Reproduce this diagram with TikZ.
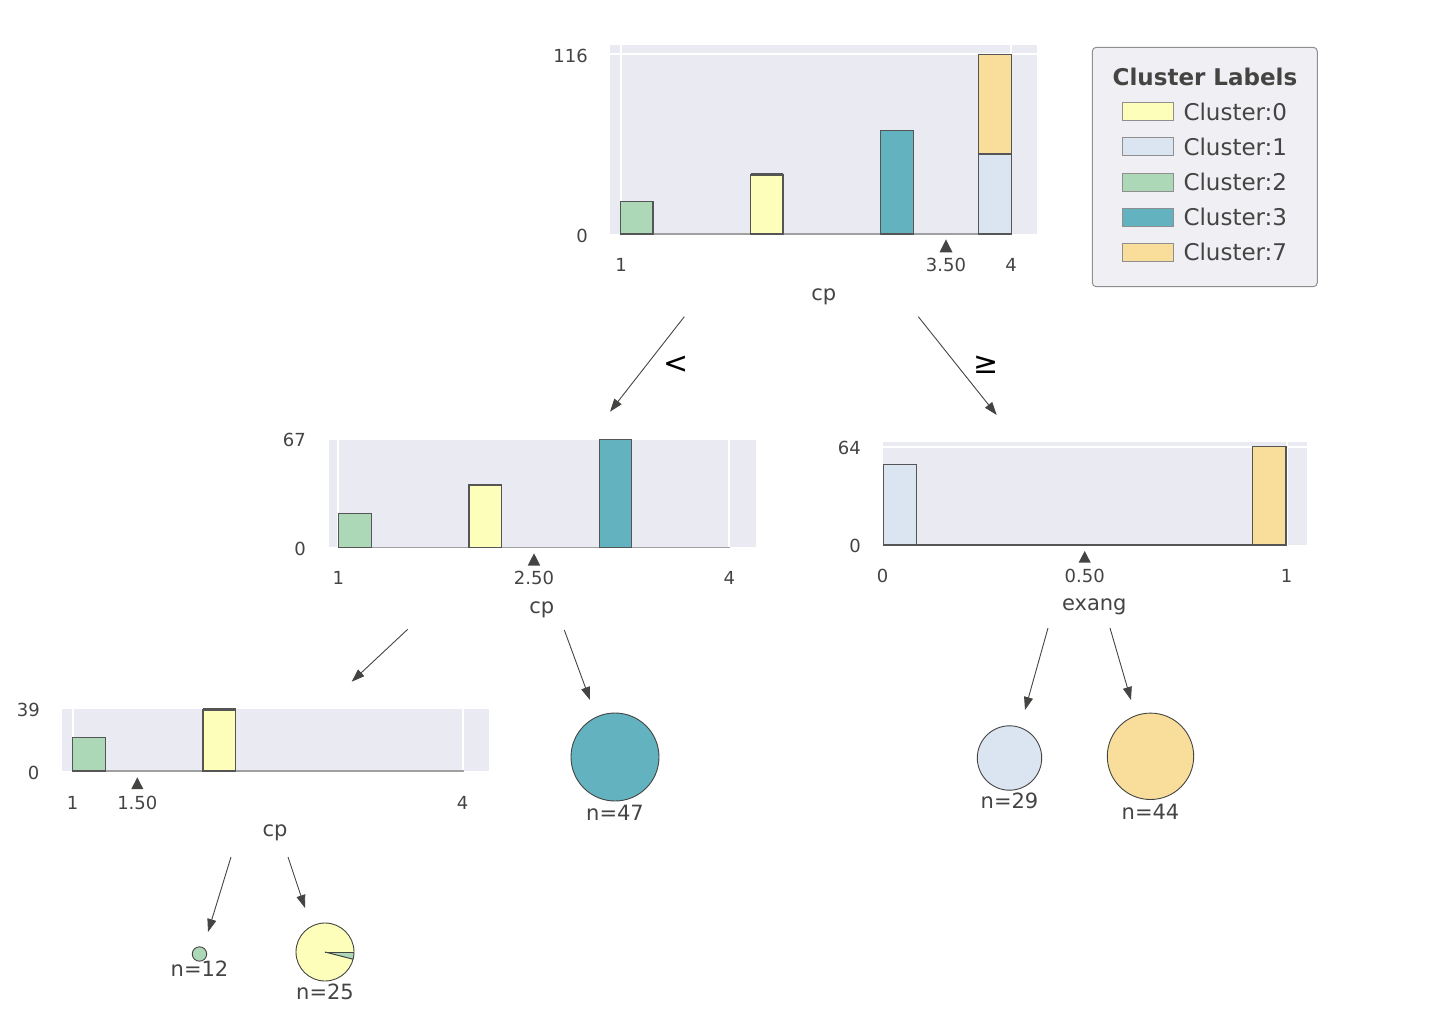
\documentclass[tikz,border=0pt]{standalone}
\usepackage{fontspec}
\setmainfont{DejaVu Sans}
\usetikzlibrary{arrows.meta}
\definecolor{txt}{HTML}{444443}
\definecolor{panel}{HTML}{EAEAF2}
\definecolor{baredge}{HTML}{555555}
\definecolor{basecol}{HTML}{A0A0A0}
\definecolor{cA}{HTML}{FEFEBB}
\definecolor{cB}{HTML}{DAE5F1}
\definecolor{cC}{HTML}{ACD8B7}
\definecolor{cD}{HTML}{62B2C0}
\definecolor{cE}{HTML}{F8DE9A}
\definecolor{legfill}{HTML}{EFEFF4}
\definecolor{legedge}{HTML}{8F8F8F}
\begin{document}
\begin{tikzpicture}[x=1pt,y=-1pt,
  tick/.style={text=txt,font=\fontsize{18}{20}\selectfont,inner sep=0pt,anchor=base},
  ytick/.style={text=txt,font=\fontsize{18}{20}\selectfont,inner sep=0pt,anchor=base east},
  axlab/.style={text=txt,font=\fontsize{21}{24}\selectfont,inner sep=0pt,anchor=base},
  bar/.style={draw=baredge,line width=1.1pt},
  barcap/.style={draw=baredge,line width=2.4pt},
  gridw/.style={draw=white,line width=2pt},
  baseln/.style={draw=basecol,line width=1.5pt},
  splitmark/.style={fill=txt,draw=none},
  edge/.style={draw=txt,line width=0.9pt,-{Triangle[length=13pt,width=9pt]}},
  edgelab/.style={font=\fontsize{30}{32}\selectfont,inner sep=0pt,text=black},
  leafc/.style={draw=txt,line width=0.9pt},
  legsw/.style={draw=legedge,line width=1pt},
  legtxt/.style={text=txt,font=\fontsize{23}{26}\selectfont,inner sep=0pt,anchor=west}]
\useasboundingbox (0,0) rectangle (1436,1022);

% ===== root histogram (cp, split 3.50) =====
\fill[panel] (610,45) rectangle (1037,234);
\draw[gridw] (610,54.3) -- (1037,54.3);
\draw[gridw] (621,45) -- (621,234);
\draw[gridw] (1011,45) -- (1011,234);
\draw[baseln] (620,234) -- (1012,234);
\draw[bar,fill=cC] (620.5,234) rectangle (653,201.7);
\draw[bar,fill=cA] (750.5,234) rectangle (783,174.5);
\draw[barcap] (750.5,174.5) -- (783,174.5);
\draw[bar,fill=cD] (880.7,234) rectangle (913.7,130.3);
\draw[bar,fill=cB] (978.3,234) rectangle (1011.3,154);
\draw[bar,fill=cE] (978.3,154) rectangle (1011.3,54.3);
\node[ytick] (r116) at (588,62.3) {116};
\node[ytick] (r0) at (588,242.3) {0};
\node[tick] (rx1) at (621,271) {1};
\node[tick] (rx350) at (946,271) {3.50};
\node[tick] (rx4) at (1011,271) {4};
\node[axlab] (rlab) at (823.7,300) {cp};
\fill[splitmark] (946,239.3) -- (952.5,252.3) -- (939.5,252.3) -- cycle;

% ===== legend =====
\draw[fill=legfill,draw=legedge,line width=1pt,rounded corners=4pt] (1092.3,47.3) rectangle (1317.3,286.7);
\node[text=txt,font=\bfseries\fontsize{23}{26}\selectfont,inner sep=0pt] (legtitle) at (1205,77.3) {Cluster Labels};
\draw[legsw,fill=cA] (1122.3,102.9) rectangle (1173.3,120.5);
\node[legtxt] (lg0) at (1183.3,111.7) {Cluster:0};
\draw[legsw,fill=cB] (1122.3,137.9) rectangle (1173.3,155.5);
\node[legtxt] (lg1) at (1183.3,146.7) {Cluster:1};
\draw[legsw,fill=cC] (1122.3,173.5) rectangle (1173.3,191.1);
\node[legtxt] (lg2) at (1183.3,182.3) {Cluster:2};
\draw[legsw,fill=cD] (1122.3,208.5) rectangle (1173.3,226.1);
\node[legtxt] (lg3) at (1183.3,217.3) {Cluster:3};
\draw[legsw,fill=cE] (1122.3,243.5) rectangle (1173.3,261.1);
\node[legtxt] (lg7) at (1183.3,252.3) {Cluster:7};

% ===== middle-left histogram (cp, split 2.50) =====
\fill[panel] (329,440) rectangle (755.7,547.3);
\draw[gridw] (338.3,440) -- (338.3,547.3);
\draw[gridw] (729.3,440) -- (729.3,547.3);
\draw[baseln] (338,547.3) -- (729.5,547.3);
\draw[bar,fill=cC] (338.5,547.3) rectangle (371.7,513.7);
\draw[bar,fill=cA] (469,547.3) rectangle (501.7,485);
\draw[barcap] (469,485) -- (501.7,485);
\draw[bar,fill=cD] (599.3,547.3) rectangle (631.7,439.5);
\node[ytick] (a67) at (306,446) {67};
\node[ytick] (a0) at (306,555) {0};
\node[tick] (ax1) at (338.3,584.3) {1};
\node[tick] (ax250) at (534,584.3) {2.50};
\node[tick] (ax4) at (729.3,584.3) {4};
\node[axlab] (alab) at (541.7,613.3) {cp};
\fill[splitmark] (534,553.3) -- (540.3,565.7) -- (527.7,565.7) -- cycle;

% ===== middle-right histogram (exang, split 0.50) =====
\fill[panel] (883.3,442.3) rectangle (1306.7,545);
\draw[gridw] (883.3,447.3) -- (1306.7,447.3);
\draw[gridw] (1287.3,442.3) -- (1287.3,545);
\draw[draw=baredge,line width=1.3pt] (883.3,545) -- (1287,545);
\draw[bar,fill=cB] (883.3,545) rectangle (916.7,464.7);
\draw[bar,fill=cE] (1252.7,545) rectangle (1286,446.7);
\node[ytick] (b64) at (861,454.3) {64};
\node[ytick] (b0) at (861,552.3) {0};
\node[tick] (bx0) at (882.7,582.3) {0};
\node[tick] (bx050) at (1084.7,582.3) {0.50};
\node[tick] (bx1) at (1286.7,582.3) {1};
\node[axlab] (blab) at (1094.3,610) {exang};
\fill[splitmark] (1084.7,551) -- (1090.8,562.7) -- (1078.6,562.7) -- cycle;

% ===== bottom-left histogram (cp, split 1.50) =====
\fill[panel] (62.3,709.3) rectangle (489,771);
\draw[gridw] (72.7,709.3) -- (72.7,771);
\draw[gridw] (463.3,709.3) -- (463.3,771);
\draw[baseln] (72.5,771) -- (463.5,771);
\draw[bar,fill=cC] (72.7,771) rectangle (105.7,737.7);
\draw[bar,fill=cA] (203,771) rectangle (235.7,709.5);
\draw[barcap] (203,709.5) -- (235.7,709.5);
\node[ytick] (c39) at (40,716.7) {39};
\node[ytick] (c0) at (39.5,779.3) {0};
\node[tick] (cx1) at (72.5,809.3) {1};
\node[tick] (cx150) at (137.3,809.3) {1.50};
\node[tick] (cx4) at (462.7,809.3) {4};
\node[axlab] (clab) at (275,836.7) {cp};
\fill[splitmark] (137.3,777.3) -- (143.3,789) -- (131.3,789) -- cycle;

% ===== leaves =====
\node[circle,leafc,fill=cD,minimum size=88pt,inner sep=0pt] (leaf47) at (615,757) {};
\node[axlab] (n47) at (615,820) {n=47};
\node[circle,leafc,fill=cB,minimum size=64.4pt,inner sep=0pt] (leaf29) at (1009.5,758) {};
\node[axlab] (n29) at (1009.5,808.3) {n=29};
\node[circle,leafc,fill=cE,minimum size=86.4pt,inner sep=0pt] (leaf44) at (1150.5,756.3) {};
\node[axlab] (n44) at (1150.5,819) {n=44};
\node[circle,leafc,fill=cC,minimum size=14.4pt,inner sep=0pt] (leaf12) at (199.5,954) {};
\node[axlab] (n12) at (199.5,976) {n=12};
\coordinate (pc) at (325,952);
\fill[cA] (pc) -- ++(-14.4:29pt) arc[start angle=-14.4,end angle=-360,radius=29pt] -- cycle;
\fill[cC] (pc) -- ++(0:29pt) arc[start angle=0,end angle=-14.4,radius=29pt] -- cycle;
\draw[leafc] (pc) circle[radius=29pt];
\draw[draw=txt,line width=1pt] (pc) -- ++(0:29pt);
\draw[draw=txt,line width=1pt] (pc) -- ++(-14.4:29pt);
\node[circle,minimum size=58pt,inner sep=0pt] (leaf25) at (pc) {};
\node[axlab] (n25) at (325,999) {n=25};

% ===== connectors =====
\coordinate (rootLs) at (684.3,316.7);
\coordinate (rootLe) at (610,411.7);
\coordinate (rootRs) at (918.3,316.7);
\coordinate (rootRe) at (996.7,415);
\draw[edge] (rootLs) -- (rootLe);
\draw[edge] (rootRs) -- (rootRe);
\node[edgelab] (lt) at (676.5,365) {<};
\node[edgelab] (ge) at (986.5,364.5) {≥};
\coordinate (aLs) at (407.7,629.3);
\coordinate (aLe) at (351.7,681.7);
\coordinate (aRs) at (564.3,630);
\coordinate (aRe) at (590,700);
\draw[edge] (aLs) -- (aLe);
\draw[edge] (aRs) -- (aRe);
\coordinate (bLs) at (1048,628);
\coordinate (bLe) at (1025,710);
\coordinate (bRs) at (1110,628);
\coordinate (bRe) at (1131,700);
\draw[edge] (bLs) -- (bLe);
\draw[edge] (bRs) -- (bRe);
\coordinate (cLs) at (231,857);
\coordinate (cLe) at (208,932);
\coordinate (cRs) at (288,857);
\coordinate (cRe) at (305,908);
\draw[edge] (cLs) -- (cLe);
\draw[edge] (cRs) -- (cRe);
\end{tikzpicture}
\end{document}
